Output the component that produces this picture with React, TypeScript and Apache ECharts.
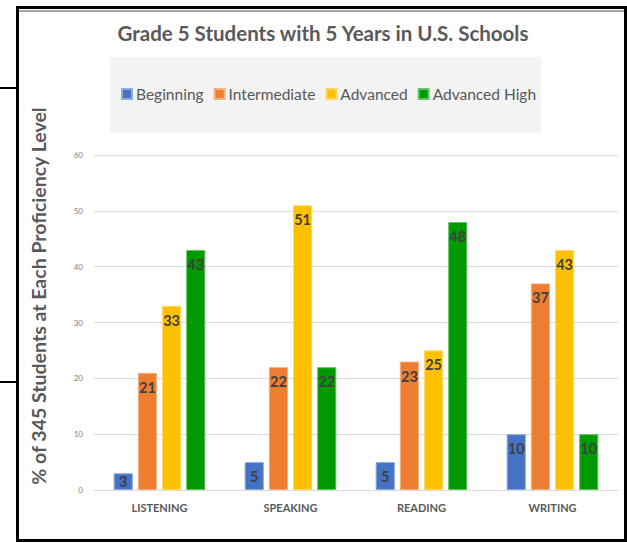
import React, { useEffect, useRef } from "react";
import * as echarts from "echarts";

const categories = ["LISTENING", "SPEAKING", "READING", "WRITING"];
const seriesNames = ["Beginning", "Intermediate", "Advanced", "Advanced High"];
const beginning = [3, 5, 5, 10];
const intermediate = [21, 22, 23, 37];
const advanced = [33, 51, 25, 43];
const advancedHigh = [43, 22, 48, 10];
const seriesColors = ["#4472c4", "#ed7d31", "#ffc000", "#009900"];
const borderColors = ["#8faadc", "#f4b183", "#ffd966", "#66c266"];
const titleText = "Grade 5 Students with 5 Years in U.S. Schools";
const yAxisTitle = "% of 345 Students at Each Proficiency Level";

const FONT = "Lato, 'Open Sans', sans-serif";

export default function App() {
  const ref = useRef<HTMLDivElement>(null);

  useEffect(() => {
    if (!ref.current) return;
    const chart = echarts.init(ref.current, null, { renderer: "svg" });
    const values = [beginning, intermediate, advanced, advancedHigh];
    chart.setOption({
      animation: false,
      backgroundColor: "#ffffff",
      textStyle: { fontFamily: FONT },
      title: {
        text: titleText,
        left: 323,
        textAlign: "center",
        top: 22,
        padding: 0,
        textStyle: { fontFamily: FONT, fontSize: 20.5, fontWeight: "bold", color: "#595959" },
      },
      legend: {
        data: seriesNames,
        left: 121,
        top: 86,
        padding: 0,
        itemWidth: 10,
        itemHeight: 10,
        itemGap: 10,
        icon: "rect",
        textStyle: { fontFamily: FONT, fontSize: 15.5, color: "#595959", padding: [0, 0, 0, -1] },
      },
      grid: { left: 94, right: 9, top: 155, bottom: 53 },
      xAxis: {
        type: "category",
        data: categories,
        axisLine: { lineStyle: { color: "#d9d9d9", width: 1 } },
        axisTick: { show: false },
        axisLabel: { fontFamily: FONT, fontSize: 11, fontWeight: "bold", color: "#595959", margin: 12 },
      },
      yAxis: {
        type: "value",
        min: 0,
        max: 60,
        interval: 10,
        axisLine: { show: false },
        axisTick: { show: false },
        axisLabel: { fontFamily: FONT, fontSize: 8, color: "#808080", margin: 11 },
        splitLine: { lineStyle: { color: "#d9d9d9", width: 1 } },
      },
      graphic: [
        {
          type: "rect",
          z: -10,
          shape: { x: 110, y: 57, width: 431, height: 76 },
          style: { fill: "#f3f3f3" },
        },
        {
          type: "text",
          x: 38,
          y: 296,
          rotation: Math.PI / 2,
          style: {
            text: yAxisTitle,
            font: "bold 19.5px " + FONT,
            fill: "#595959",
            textAlign: "center",
            textVerticalAlign: "middle",
          },
        },
        {
          type: "rect",
          shape: { x: 17.5, y: 7.5, width: 608, height: 533 },
          style: { fill: "none", stroke: "#000000", lineWidth: 3 },
        },
        {
          type: "line",
          shape: { x1: 19, y1: 11, x2: 624, y2: 11 },
          style: { stroke: "#a6a6a6", lineWidth: 2 },
        },
        {
          type: "line",
          shape: { x1: 0, y1: 88, x2: 16, y2: 88 },
          style: { stroke: "#000000", lineWidth: 2 },
        },
        {
          type: "line",
          shape: { x1: 0, y1: 382, x2: 16, y2: 382 },
          style: { stroke: "#000000", lineWidth: 2 },
        },
      ],
      series: seriesNames.map((name, i) => ({
        name,
        type: "bar",
        data: values[i].map((v) =>
          v < 4 ? { value: v, label: { position: "inside" } } : v
        ),
        barGap: "26%",
        barCategoryGap: "30%",
        itemStyle: { color: seriesColors[i], borderColor: borderColors[i], borderWidth: 1 },
        label: {
          show: true,
          position: "insideTop",
          distance: 7,
          fontFamily: FONT,
          fontSize: 14.5,
          fontWeight: "bold",
          color: "#404040",
        },
      })),
    });
    return () => chart.dispose();
  }, []);

  return (
    <div
      ref={ref}
      style={{ position: "absolute", left: 0, top: 0, width: 627, height: 543 }}
    />
  );
}
